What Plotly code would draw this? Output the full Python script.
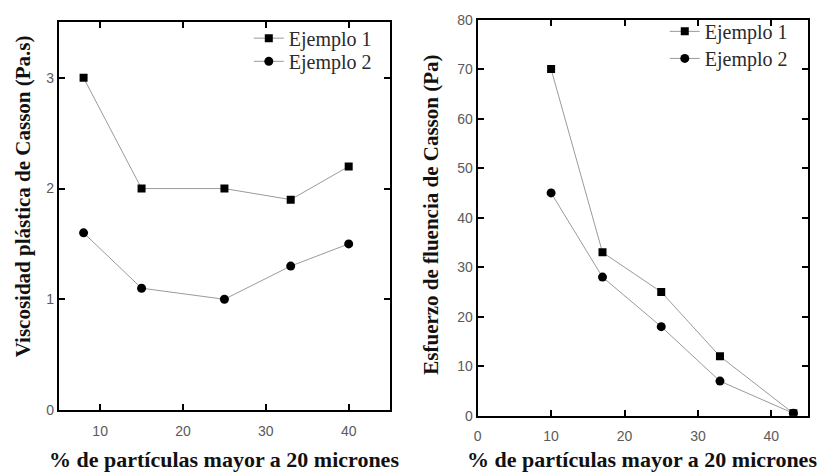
import plotly.graph_objects as go

# Left panel data
x_left = [8, 15, 25, 33, 40]
visc_ej1 = [3.0, 2.0, 2.0, 1.9, 2.2]
visc_ej2 = [1.6, 1.1, 1.0, 1.3, 1.5]

# Right panel data
x_right = [10, 17, 25, 33, 43]
esf_ej1 = [70, 33, 25, 12, 0.5]
esf_ej2 = [45, 28, 18, 7, 0.5]

series_names = ["Ejemplo 1", "Ejemplo 2"]
x_title = "% de partículas mayor a 20 micrones"
y_title_left = "Viscosidad plástica de Casson (Pa.s)"
y_title_right = "Esfuerzo de fluencia de Casson (Pa)"

W, H = 822, 475
LINE_C = "#9a9a9a"
serif = "Liberation Serif, Times New Roman, serif"
sans = "Liberation Sans, Arial, sans-serif"

fig = go.Figure()

def add(x, y, name, symbol, size, xa, ya, leg):
    fig.add_trace(go.Scatter(
        x=x, y=y, name=name, mode="lines+markers",
        line=dict(color=LINE_C, width=1),
        marker=dict(symbol=symbol, size=size, color="black"),
        xaxis=xa, yaxis=ya, legend=leg, showlegend=True))

add(x_left, visc_ej1, series_names[0], "square", 8, "x", "y", "legend")
add(x_left, visc_ej2, series_names[1], "circle", 9, "x", "y", "legend2")
add(x_right, esf_ej1, series_names[0], "square", 8, "x2", "y2", "legend3")
add(x_right, esf_ej2, series_names[1], "circle", 9, "x2", "y2", "legend4")

axis_common = dict(
    showline=True, linecolor="black", linewidth=2, mirror="ticks",
    ticks="inside", ticklen=6, tickwidth=2, tickcolor="black",
    showgrid=False, zeroline=False,
    tickfont=dict(family=sans, size=14, color="#5a5a5a"),
)

def px_x(p):
    return p / W

def px_y(p):
    return 1 - p / H

def leg(xp, yp):
    return dict(x=px_x(xp), y=px_y(yp), xanchor="left", yanchor="top",
                bgcolor="rgba(0,0,0,0)",
                font=dict(family=serif, size=20, color="#2a2a2a"),
                itemwidth=30)

fig.update_layout(
    width=W, height=H,
    margin=dict(l=0, r=0, t=0, b=0),
    font=dict(family=serif),
    paper_bgcolor="white", plot_bgcolor="white",
    xaxis=dict(domain=[px_x(55), px_x(388)], range=[5, 45], tick0=0, dtick=10,
               anchor="y", ticklabelstandoff=7, **axis_common),
    yaxis=dict(domain=[px_y(416), px_y(15)], range=[0, 3.5], tick0=0, dtick=1,
               anchor="x", **axis_common),
    xaxis2=dict(domain=[px_x(476), px_x(808)], range=[0, 45], tick0=0, dtick=10,
                anchor="y2", ticklabelstandoff=6, **axis_common),
    yaxis2=dict(domain=[px_y(422), px_y(12)], range=[0, 80], tick0=0, dtick=10,
                anchor="x2", **axis_common),
    legend=leg(246, 11),
    legend2=leg(246, 35),
    legend3=leg(664, 4),
    legend4=leg(664, 32),
)

xt_font = dict(family=serif, size=22, color="#111111")
yt_font = dict(family=serif, size=21, color="#111111")
annotations = [
    dict(text="<b>%s</b>" % x_title, x=px_x(221), y=px_y(467), xref="paper", yref="paper",
         showarrow=False, font=xt_font, xanchor="center", yanchor="middle"),
    dict(text="<b>%s</b>" % x_title, x=px_x(641), y=px_y(467), xref="paper", yref="paper",
         showarrow=False, font=xt_font, xanchor="center", yanchor="middle"),
    dict(text="<b>%s</b>" % y_title_left, x=px_x(20), y=px_y(195), xref="paper", yref="paper",
         showarrow=False, font=yt_font, textangle=-90, xanchor="center", yanchor="middle"),
    dict(text="<b>%s</b>" % y_title_right, x=px_x(429), y=px_y(214), xref="paper", yref="paper",
         showarrow=False, font=yt_font, textangle=-90, xanchor="center", yanchor="middle"),
]
fig.update_layout(annotations=annotations)

fig.write_html("out.html")
